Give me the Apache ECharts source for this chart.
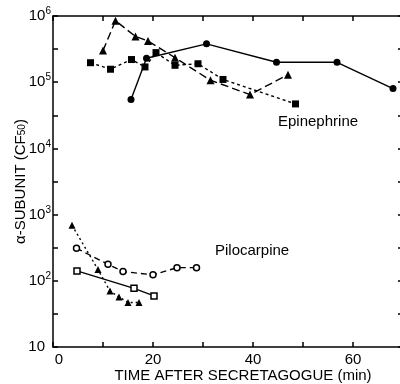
<!DOCTYPE html>
<html><head><meta charset="utf-8">
<script src="https://cdn.jsdelivr.net/npm/echarts@6/dist/echarts.min.js"></script>
<style>html,body{margin:0;padding:0;background:#fff}#c{width:400px;height:384px}</style>
</head><body><div id="c"></div>
<script>
// Epinephrine
const epiCircleX = [15.6, 18.7, 30.7, 44.7, 56.8, 68.0];
const epiCircleY = [5.5e4, 2.3e5, 3.8e5, 2.0e5, 2.0e5, 8.0e4];
const epiTriX = [10.0, 12.5, 16.5, 19.0, 24.4, 31.5, 39.4, 47.0];
const epiTriY = [3.0e5, 8.5e5, 4.9e5, 4.2e5, 2.35e5, 1.07e5, 6.5e4, 1.3e5];
const epiSqX = [7.5, 11.5, 15.7, 18.4, 20.6, 24.4, 29.0, 34.0, 48.5];
const epiSqY = [1.97e5, 1.57e5, 2.2e5, 1.7e5, 2.8e5, 1.8e5, 1.9e5, 1.1e5, 4.7e4];
// Pilocarpine
const piloTriX = [3.8, 9.0, 11.4, 13.2, 15.0, 17.2];
const piloTriY = [690, 148, 70, 57, 47, 47];
const piloCircleX = [4.7, 11.0, 14.0, 20.0, 24.8, 28.7];
const piloCircleY = [310, 178, 138, 123, 158, 158];
const piloSqX = [4.8, 16.2, 20.2];
const piloSqY = [141, 77, 59];
// Axis ticks
const xLabelValues = [0, 20, 40, 60];

const zip = (xs, ys) => xs.map((x, i) => [x, ys[i]]);
const FONT = 'Liberation Sans';

function mk(name, xs, ys, symbol, size, filled, dash) {
  return {
    name, type: 'line', xAxisIndex: 0, yAxisIndex: 0,
    data: zip(xs, ys), symbol, symbolSize: size, showSymbol: true,
    lineStyle: { color: '#000', width: 1.4, type: dash },
    itemStyle: filled ? { color: '#000', borderWidth: 0 } : { color: '#fff', borderColor: '#000', borderWidth: 1.5 },
    emphasis: { disabled: true }, animation: false, z: filled ? 3 : 4
  };
}

const chart = echarts.init(document.getElementById('c'));
chart.setOption({
  animation: false,
  backgroundColor: '#fff',
  grid: { left: 53, width: 350, top: 16, bottom: 37, containLabel: false, outerBoundsMode: 'none' },
  xAxis: [{
    type: 'value', min: 0, max: 70, interval: 10, position: 'bottom',
    axisLine: { lineStyle: { color: '#000', width: 1.5 } },
    axisTick: { inside: true, length: 5, lineStyle: { color: '#000', width: 1.5 } },
    splitLine: { show: false },
    axisLabel: {
      color: '#000', fontFamily: FONT, fontSize: 15, margin: 5,
      formatter: v => xLabelValues.includes(v) ? (v === 0 ? '{z|0}' : String(v)) : '',
      rich: { z: { fontFamily: FONT, fontSize: 15, color: '#000', padding: [0, 0, 0, 12] } }
    },
    name: 'TIME AFTER SECRETAGOGUE (min)', nameLocation: 'middle', nameGap: 21, nameMoveOverlap: false,
    nameTextStyle: { color: '#000', fontFamily: FONT, fontSize: 15, padding: [0, 0, 0, 30] }
  }, {
    type: 'value', min: 0, max: 70, interval: 10, position: 'top',
    axisLine: { lineStyle: { color: '#000', width: 1.5 } },
    axisTick: { inside: true, length: 5, lineStyle: { color: '#000', width: 1.5 } },
    axisLabel: { show: false }, splitLine: { show: false }
  }],
  yAxis: [{
    type: 'log', logBase: 10, min: 10, max: 1e6, position: 'left',
    axisLine: { show: true, lineStyle: { color: '#000', width: 1.5 } },
    axisTick: { show: true, inside: true, length: 5, lineStyle: { color: '#000', width: 1.5 } },
    splitLine: { show: false },
    axisLabel: {
      margin: 2, color: '#000', fontFamily: FONT, fontSize: 15,
      formatter: v => {
        const e = Math.round(Math.log10(v));
        return e === 1 ? '{b|10}{p| }' : '{b|10}{s|' + e + '}';
      },
      rich: {
        b: { fontFamily: FONT, fontSize: 15, color: '#000' },
        s: { fontFamily: FONT, fontSize: 10, color: '#000', padding: [0, 0, 9, 0] },
        p: { fontFamily: FONT, fontSize: 10, width: 6 }
      }
    },
    name: 'α-SUBUNIT (CF{sub|50})', nameLocation: 'middle', nameGap: 25, nameMoveOverlap: false,
    nameTextStyle: {
      color: '#000', fontFamily: FONT, fontSize: 15,
      rich: { sub: { fontFamily: FONT, fontSize: 10, color: '#000', padding: [0, 0, -4, 0] } }
    }
  }, {
    type: 'value', min: 1, max: 6, interval: 0.5, position: 'left',
    axisLine: { show: false }, axisLabel: { show: false }, splitLine: { show: false },
    axisTick: { show: true, inside: true, length: 5, lineStyle: { color: '#000', width: 1.5 } }
  }, {
    type: 'value', min: 1, max: 6, interval: 0.5, position: 'right',
    axisLine: { show: true, lineStyle: { color: '#000', width: 1.5 } }, axisLabel: { show: false }, splitLine: { show: false },
    axisTick: { show: true, inside: true, length: 5, lineStyle: { color: '#000', width: 1.5 } }
  }],
  graphic: [
    { type: 'text', left: 278, top: 114, style: { text: 'Epinephrine', fill: '#000', font: '15px "Liberation Sans"' } },
    { type: 'text', left: 215, top: 243, style: { text: 'Pilocarpine', fill: '#000', font: '15px "Liberation Sans"' } }
  ],
  series: [
    mk('Epi circles', epiCircleX, epiCircleY, 'circle', 7, true, 'solid'),
    mk('Epi triangles', epiTriX, epiTriY, 'triangle', 8, true, [8, 4]),
    mk('Epi squares', epiSqX, epiSqY, 'rect', 7, true, [3, 3]),
    mk('Pilo triangles', piloTriX, piloTriY, 'triangle', 7, true, [2, 3]),
    mk('Pilo circles', piloCircleX, piloCircleY, 'circle', 6, false, [6, 4]),
    mk('Pilo squares', piloSqX, piloSqY, 'rect', 6, false, 'solid')
  ]
});
</script></body></html>
